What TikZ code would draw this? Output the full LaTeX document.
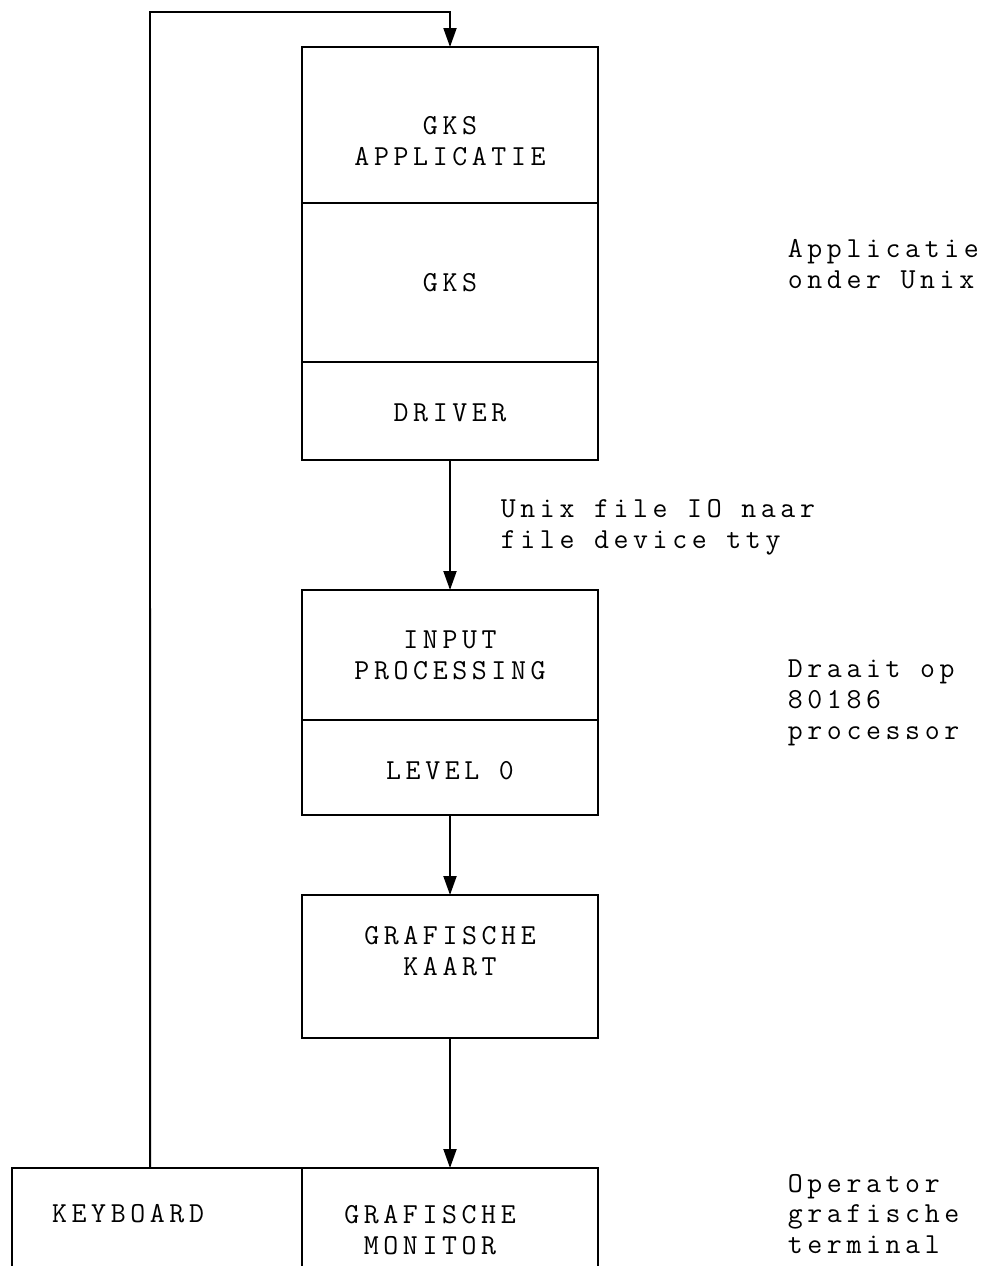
\documentclass[tikz,border=0pt]{standalone}
\usepackage{fontspec}
\usetikzlibrary{positioning,arrows.meta}

\newfontfamily\typefont{Latin Modern Mono}[LetterSpace=16]
\newcommand{\typed}{\fontsize{16.5}{17.5}\typefont}

\tikzset{
	seg/.style={draw, minimum width=5.92cm, inner sep=0pt, outer sep=0pt},
	txt/.style={align=center, font=\typed},
	side/.style={align=left, anchor=west, font=\typed},
}

\begin{document}
\begin{tikzpicture}[x=0.02cm, y=-0.02cm, line width=1.1pt,
	>={Triangle[width=0.26cm,length=0.38cm]}]

\useasboundingbox (0,0) rectangle (991,1266);

%Unix stack
\node [seg, minimum height=3.12cm] (appbox) at (450,125) {};
\node [seg, minimum height=3.18cm, below=0pt of appbox] (gksbox) {};
\node [seg, minimum height=1.96cm, below=0pt of gksbox] (drvbox) {};

\node [txt] (apptext) at (450,141) {GKS\\APPLICATIE};
\node [txt] (gkstext) at (450,283) {GKS};
\node [txt] (drvtext) at (450,413) {DRIVER};

\node [side] (unixtext) at (781,264) {Applicatie\\onder Unix};

%Processor
\node [seg, minimum height=2.6cm] (inbox) at (450,655) {};
\node [seg, minimum height=1.9cm, below=0pt of inbox] (lvlbox) {};

\node [txt] (intext) at (450,655) {INPUT\\PROCESSING};
\node [txt] (lvltext) at (450,771) {LEVEL 0};

\node [side] (proctext) at (781,703) {Draait op\\80186\\processor};

\draw[->] (drvbox.south) -- (inbox.north);
\node [side] (iotext) at (494,527) {Unix file IO naar\\file device tty};

%Grafische kaart
\node [seg, minimum height=2.86cm] (kaartbox) at (450,966.5) {};
\node [txt] (kaarttext) at (450,951) {GRAFISCHE\\KAART};

\draw[->] (lvlbox.south) -- (kaartbox.north);

%Terminal
\node [seg, minimum height=2.64cm] (monbox) at (450,1234) {};
\node [seg, minimum height=2.64cm, minimum width=5.8cm, left=0pt of monbox] (kbbox) {};

\node [txt] (kbtext) at (128,1214) {KEYBOARD};
\node [txt] (montext) at (430,1230) {GRAFISCHE\\MONITOR};

\node [side] (termtext) at (781,1214) {Operator\\grafische\\terminal};

\draw[->] (kaartbox.south) -- (monbox.north);

%Keyboard input back to the application
\coordinate (fbturn) at (150,12);
\draw[->] ([xshift=-0.14cm]kbbox.north) -- (fbturn) -| (appbox.north);

\end{tikzpicture}
\end{document}
